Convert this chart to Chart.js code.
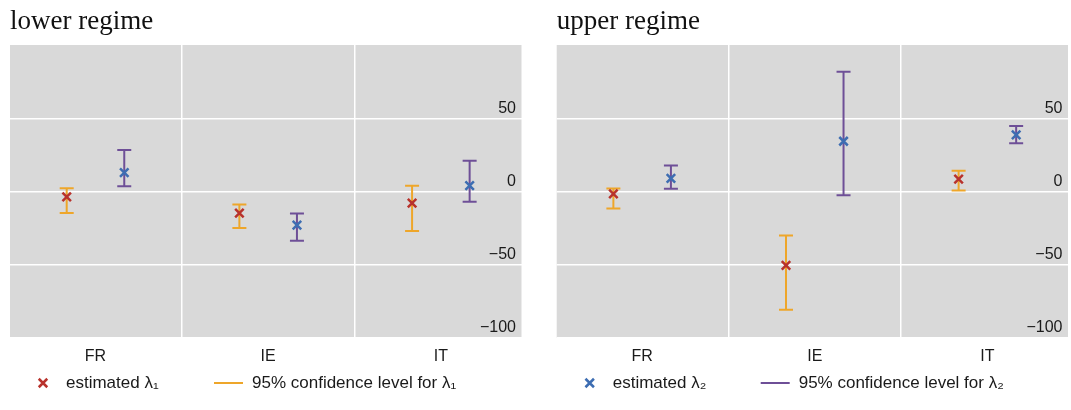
<!DOCTYPE html>
<html>
<head>
<meta charset="utf-8">
<script src="https://cdn.jsdelivr.net/npm/chart.js@4.4.1/dist/chart.umd.min.js"></script>
<style>
  html, body { margin: 0; padding: 0; background: #ffffff; overflow: hidden; }
  #wrap { position: relative; width: 1071px; height: 410px; overflow: hidden; }
  #wrap canvas { position: absolute; top: 0; }
</style>
</head>
<body>
<div id="wrap">
  <canvas id="lower" width="540" height="410" style="left:0px"></canvas>
  <canvas id="upper" width="540" height="410" style="left:540px"></canvas>
</div>
<script>
// Categories and axis ticks
const countries = ['FR', 'IE', 'IT'];
const yTickValues = [-100, -50, 0, 50];

// Lower regime: point estimates and 95% interval bounds
const lowerLambda1 = [-3.6, -14.8, -7.9];
const lowerLambda1Lo = [-14.7, -24.9, -27.0];
const lowerLambda1Hi = [2.3, -8.8, 3.9];
const lowerLambda2 = [12.9, -22.9, 4.0];
const lowerLambda2Lo = [3.6, -33.6, -7.0];
const lowerLambda2Hi = [28.4, -15.1, 21.0];

// Upper regime: point estimates and 95% interval bounds
const upperLambda1 = [-1.6, -50.5, 8.4];
const upperLambda1Lo = [-11.6, -80.8, 0.7];
const upperLambda1Hi = [2.0, -30.0, 14.1];
const upperLambda2 = [8.9, 34.3, 38.6];
const upperLambda2Lo = [1.8, -2.5, 33.0];
const upperLambda2Hi = [17.7, 81.7, 44.7];

const SANS = '"Liberation Sans", Arial, sans-serif';
const SERIF = '"Liberation Serif", "Times New Roman", serif';
const TEXT = '#1a1a1a';
const RED = '#b8322c';
const BLUE = '#3d6db2';
const ORANGE = '#eea62a';
const PURPLE = '#6e4f97';
const SHIFT = 1 / 6;  // side-by-side offset of the two series inside a category

function points(est, shift) {
  return est.map((v, i) => ({ x: i + 1 + shift, y: v }));
}
function intervals(lo, hi, shift) {
  const out = [];
  lo.forEach((l, i) => {
    const x = i + 1 + shift;
    out.push({ x, y: l }, { x, y: hi[i] }, { x, y: null });
  });
  return out;
}

// grey plotting panel
const panelBackground = {
  id: 'panelBackground',
  beforeDraw(chart) {
    const { ctx, chartArea: a } = chart;
    ctx.save();
    ctx.fillStyle = '#d9d9d9';
    ctx.fillRect(a.left, a.top, a.right - a.left, a.bottom - a.top);
    ctx.restore();
  }
};

// one marker entry and one interval entry under the panel
const regimeLegend = {
  id: 'regimeLegend',
  afterDraw(chart, args, opts) {
    const { ctx, chartArea: a } = chart;
    const mk = chart.data.datasets[opts.marker];
    const ci = chart.data.datasets[opts.band];
    const y = opts.y;
    const x0 = a.left;
    ctx.save();
    ctx.strokeStyle = mk.borderColor;
    ctx.fillStyle = mk.borderColor;
    ctx.lineWidth = 2.5;
    Chart.helpers.drawPoint(ctx, { pointStyle: 'crossRot', radius: 6, borderWidth: 2.5, rotation: 0 }, x0 + 33, y);
    ctx.strokeStyle = ci.borderColor;
    ctx.lineWidth = 2;
    ctx.beginPath();
    ctx.moveTo(x0 + 204, y);
    ctx.lineTo(x0 + 233, y);
    ctx.stroke();
    ctx.fillStyle = TEXT;
    ctx.font = opts.fontSize + 'px ' + SANS;
    ctx.textBaseline = 'middle';
    ctx.textAlign = 'left';
    ctx.fillText(mk.label, x0 + 56, y);
    ctx.fillText(ci.label, x0 + 242, y);
    ctx.restore();
  }
};

function makeChart(canvasId, title, est1, lo1, hi1, est2, lo2, hi2, legendPair, pad) {
  const datasets = [
    { label: 'estimated \u03bb\u2081', data: points(est1, -SHIFT), pointStyle: 'crossRot',
      pointRadius: 6, borderWidth: 2.5, borderColor: RED, backgroundColor: RED, order: 0 },
    { label: 'estimated \u03bb\u2082', data: points(est2, SHIFT), pointStyle: 'crossRot',
      pointRadius: 6, borderWidth: 2.5, borderColor: BLUE, backgroundColor: BLUE, order: 0 },
    { label: '95% confidence level for \u03bb\u2081', data: intervals(lo1, hi1, -SHIFT), showLine: true,
      spanGaps: false, borderColor: ORANGE, backgroundColor: ORANGE, borderWidth: 2,
      pointStyle: 'line', pointRadius: 7, pointBorderWidth: 2, pointBorderColor: ORANGE, order: 1 },
    { label: '95% confidence level for \u03bb\u2082', data: intervals(lo2, hi2, SHIFT), showLine: true,
      spanGaps: false, borderColor: PURPLE, backgroundColor: PURPLE, borderWidth: 2,
      pointStyle: 'line', pointRadius: 7, pointBorderWidth: 2, pointBorderColor: PURPLE, order: 1 }
  ];
  return new Chart(document.getElementById(canvasId), {
    type: 'scatter',
    data: { datasets },
    plugins: [panelBackground, regimeLegend],
    options: {
      responsive: false,
      animation: false,
      events: [],
      layout: { padding: pad },
      plugins: {
        legend: { display: false },
        tooltip: { enabled: false },
        title: {
          display: true, text: title, align: 'start', fullSize: false, color: '#111111',
          font: { family: SERIF, size: 27, weight: 'normal', lineHeight: 1 },
          padding: { top: 8, bottom: 10 }
        },
        regimeLegend: { marker: legendPair[0], band: legendPair[1], y: 383, fontSize: 17 }
      },
      scales: {
        x: {
          type: 'linear', min: 0.505, max: 3.467,
          border: { display: false },
          grid: {
            drawTicks: false, lineWidth: 1.5,
            color: c => (c.tick && Number.isInteger(c.tick.value)) ? 'rgba(0,0,0,0)' : '#ffffff'
          },
          ticks: {
            padding: 9, color: TEXT, autoSkip: false, maxRotation: 0,
            font: { family: SANS, size: 16 },
            callback: v => Number.isInteger(v) ? countries[v - 1] : ''
          },
          afterBuildTicks: s => {
            s.ticks = countries.flatMap((_, i) => i ? [i + 0.5, i + 1] : [1]).map(v => ({ value: v }));
          },
          afterFit: s => { s.height = 72; }
        },
        y: {
          position: 'right', min: -100, max: 100,
          border: { display: false },
          grid: { drawTicks: false, color: '#ffffff', lineWidth: 1.5 },
          ticks: {
            mirror: true, padding: -5.5, labelOffset: -10, color: TEXT,
            font: { family: SANS, size: 16 },
            callback: v => v < 0 ? '\u2212' + Math.abs(v) : String(v)
          },
          afterBuildTicks: s => { s.ticks = yTickValues.map(v => ({ value: v })); },
          afterFit: s => { s.width = 0; }
        }
      }
    }
  });
}

makeChart('lower', 'lower regime',
  lowerLambda1, lowerLambda1Lo, lowerLambda1Hi,
  lowerLambda2, lowerLambda2Lo, lowerLambda2Hi,
  [0, 2], { left: 10, right: 18.5, top: 0, bottom: 0 });

makeChart('upper', 'upper regime',
  upperLambda1, upperLambda1Lo, upperLambda1Hi,
  upperLambda2, upperLambda2Lo, upperLambda2Hi,
  [1, 3], { left: 16.7, right: 12, top: 0, bottom: 0 });
</script>
</body>
</html>
